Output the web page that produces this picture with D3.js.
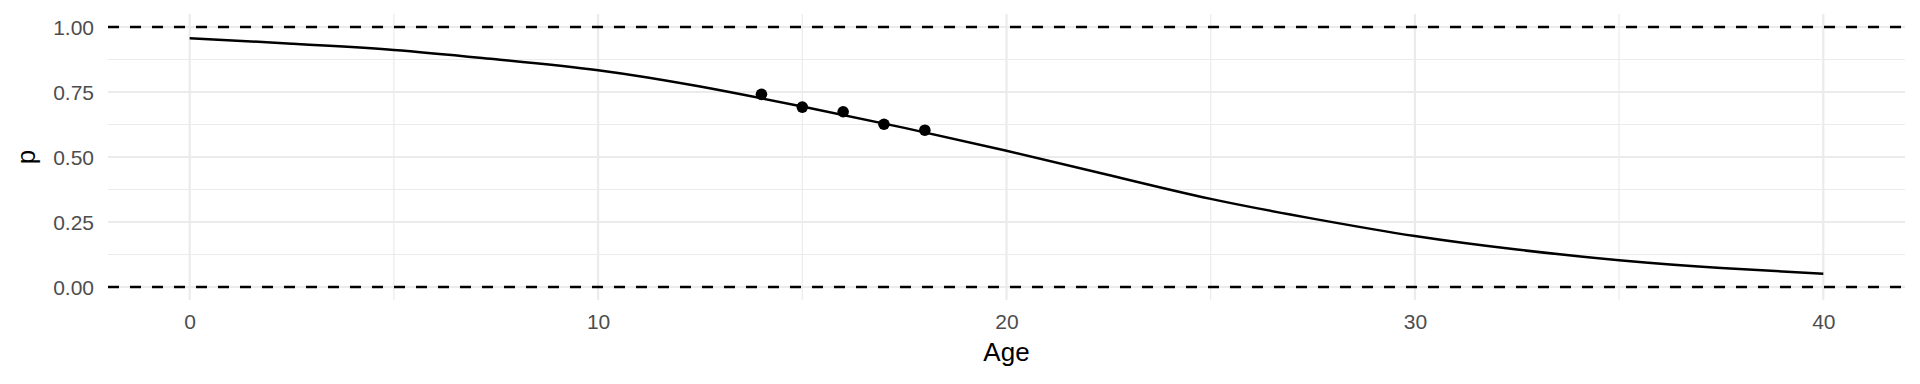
<!DOCTYPE html>
<html>
<head>
<meta charset="utf-8">
<script src="https://cdn.jsdelivr.net/npm/d3@7"></script>
<style>
  html, body { margin: 0; padding: 0; background: #fff; }
  svg { display: block; }
  text { font-family: "Liberation Sans", Arial, Helvetica, sans-serif; }
</style>
</head>
<body>
<script>
// ---- data ----
const curveAge = [0, 2.5, 5, 7.5, 10, 12.5, 15, 17.5, 20, 22.5, 25, 27.5, 30, 32.5, 35, 37.5, 40];
const curveP   = [0.957, 0.936, 0.912, 0.876, 0.834, 0.771, 0.694, 0.612, 0.524, 0.431, 0.339, 0.263, 0.196, 0.144, 0.103, 0.073, 0.051];
const pointAge = [14, 15, 16, 17, 18];
const pointP   = [0.741, 0.692, 0.674, 0.626, 0.603];
const xTicks = [0, 10, 20, 30, 40];
const xMinor = [5, 15, 25, 35];
const yTicks = [0, 0.25, 0.5, 0.75, 1];
const yMinor = [0.125, 0.375, 0.625, 0.875];
const hLines = [0, 1];
const xTitle = "Age";
const yTitle = "p";

// ---- layout ----
const W = 1920, H = 384;
const panel = { left: 108, right: 1905, top: 14, bottom: 300 };

const x = d3.scaleLinear().domain([-2, 42]).range([panel.left, panel.right]);
const y = d3.scaleLinear().domain([-0.05, 1.05]).range([panel.bottom, panel.top]);

const svg = d3.select("body").append("svg").attr("width", W).attr("height", H);

const grid = svg.append("g");
// minor grid
grid.selectAll(".hmin").data(yMinor).join("line")
  .attr("x1", panel.left).attr("x2", panel.right)
  .attr("y1", d => y(d)).attr("y2", d => y(d))
  .attr("stroke", "#EBEBEB").attr("stroke-width", 1.2);
grid.selectAll(".vmin").data(xMinor).join("line")
  .attr("y1", panel.top).attr("y2", panel.bottom)
  .attr("x1", d => x(d)).attr("x2", d => x(d))
  .attr("stroke", "#EBEBEB").attr("stroke-width", 1.2);
// major grid
grid.selectAll(".hmaj").data(yTicks).join("line")
  .attr("x1", panel.left).attr("x2", panel.right)
  .attr("y1", d => y(d)).attr("y2", d => y(d))
  .attr("stroke", "#EBEBEB").attr("stroke-width", 2.2);
grid.selectAll(".vmaj").data(xTicks).join("line")
  .attr("y1", panel.top).attr("y2", panel.bottom)
  .attr("x1", d => x(d)).attr("x2", d => x(d))
  .attr("stroke", "#EBEBEB").attr("stroke-width", 2.2);

// axes (labels only)
const xAxis = d3.axisBottom(x).tickValues(xTicks).tickSize(0).tickPadding(0).tickFormat(d3.format("d"));
const gx = svg.append("g").attr("transform", `translate(0,${panel.bottom + 29})`).call(xAxis);
gx.select(".domain").remove();
gx.selectAll("text").attr("dy", null).attr("dominant-baseline", "auto")
  .attr("font-size", 21).attr("fill", "#4D4D4D").attr("font-family", "Liberation Sans, Arial, sans-serif");

const yAxis = d3.axisLeft(y).tickValues(yTicks).tickSize(0).tickPadding(14).tickFormat(d3.format(".2f"));
const gy = svg.append("g").attr("transform", `translate(${panel.left},0)`).call(yAxis);
gy.select(".domain").remove();
gy.selectAll("text").attr("dy", "0.36em")
  .attr("font-size", 21).attr("fill", "#4D4D4D").attr("font-family", "Liberation Sans, Arial, sans-serif");

// titles
svg.append("text").attr("x", (panel.left + panel.right) / 2).attr("y", 361)
  .attr("text-anchor", "middle").attr("font-size", 26).attr("fill", "#000").text(xTitle);
svg.append("text").attr("transform", `translate(35,${(panel.top + panel.bottom) / 2}) rotate(-90)`)
  .attr("text-anchor", "middle").attr("font-size", 26).attr("fill", "#000").text(yTitle);

// dashed reference lines
svg.selectAll(".hl").data(hLines).join("line")
  .attr("x1", panel.left).attr("x2", panel.right)
  .attr("y1", d => y(d)).attr("y2", d => y(d))
  .attr("stroke", "#000").attr("stroke-width", 2.6).attr("stroke-dasharray", "11,11");

// fitted curve
const curveData = curveAge.map((a, i) => ({ a, p: curveP[i] }));
const line = d3.line().x(d => x(d.a)).y(d => y(d.p)).curve(d3.curveNatural);
svg.append("path").datum(curveData).attr("d", line)
  .attr("fill", "none").attr("stroke", "#000").attr("stroke-width", 2.5);

// observed points
const pts = pointAge.map((a, i) => ({ a, p: pointP[i] }));
svg.selectAll(".pt").data(pts).join("circle")
  .attr("cx", d => x(d.a)).attr("cy", d => y(d.p)).attr("r", 5.8).attr("fill", "#000");
</script>
</body>
</html>
